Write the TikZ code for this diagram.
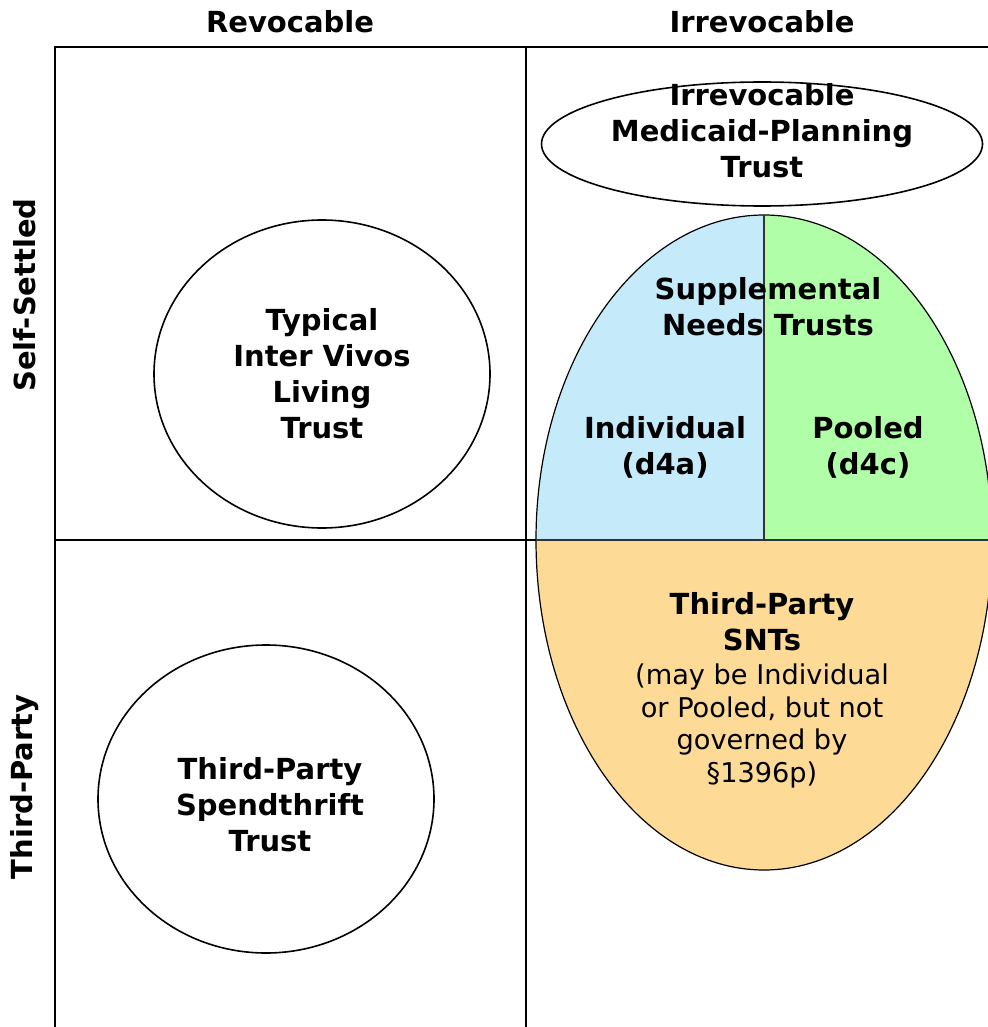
\documentclass[tikz,border=0pt]{standalone}
\usepackage{fontspec}
\setmainfont{DejaVu Sans}
\usetikzlibrary{shapes.geometric}

\definecolor{sntblue}{RGB}{197,234,250}
\definecolor{sntgreen}{RGB}{176,255,168}
\definecolor{sntorange}{RGB}{253,218,150}

\tikzset{
    hdr/.style={font=\bfseries\fontsize{14.5}{18}\selectfont, align=center, inner sep=0pt},
    note/.style={font=\fontsize{13.6}{16.3}\selectfont, align=center, inner sep=0pt},
    oval/.style={ellipse, draw, line width=0.8pt, inner sep=0pt},
    gridline/.style={line width=1pt},
}

\begin{document}
\begin{tikzpicture}[x=0.5pt,y=0.5pt]
    	            \useasboundingbox (0,0) rectangle (988,-1027);
    	            \clip (0,0) rectangle (988,-1027);
    	            
    	            % grid
    	            \coordinate (tl) at (55,-47);
    	            \coordinate (tr) at (988,-47);
    	            \coordinate (bl) at (55,-1027);
    	            \coordinate (tm) at (526,-47);
    	            \coordinate (bm) at (526,-1027);
    	            \coordinate (ml) at (55,-540);
    	            \coordinate (mr) at (536,-540);
    	            \draw[gridline] (bl)--(tl)--(tr);
    	            \draw[gridline] (tm)--(bm);
    	            \draw[gridline] (ml)--(mr);
    	            
    	            % headers
    	            \node[hdr] (revocable) at (290,-22) {Revocable};
    	            \node[hdr] (irrevocable) at (762,-22) {Irrevocable};
    	            \node[hdr, rotate=90] (selfsettled) at (25,-295) {Self-Settled};
    	            \node[hdr, rotate=90] (thirdparty) at (25,-787) {Third-Party};
    	            
    	            % left column
    	            \node[oval, minimum width=168pt, minimum height=154pt] (livingOval) at (322,-374) {};
    	            \node[hdr] (living) at (livingOval) {Typical\\Inter Vivos\\Living\\Trust};
    	            \node[oval, minimum width=168pt, minimum height=154pt] (spendOval) at (266,-799) {};
    	            \node[hdr] (spend) at (270,-805) {Third-Party\\Spendthrift\\Trust};
    	            
    	            % irrevocable column
    	            \node[oval, minimum width=220.5pt, minimum height=62pt] (medicaidOval) at (762,-144) {};
    	            \node[hdr] (medicaid) at (762,-131) {Irrevocable\\Medicaid-Planning\\Trust};
    	            
    	            % the egg
    	            \coordinate (eggc) at (764,-540);
    	            \coordinate (eggtop) at (764,-215);
    	            \fill[sntblue] (536,-540) arc[start angle=180, end angle=90, x radius=114pt, y radius=162.5pt] -- (eggc) -- cycle;
    	            \fill[sntgreen] (eggtop) arc[start angle=90, end angle=0, x radius=114pt, y radius=162.5pt] -- (eggc) -- cycle;
    	            \fill[sntorange] (536,-540) arc[start angle=180, end angle=360, x radius=114pt, y radius=165pt] -- cycle;
    	            \draw[line width=0.6pt] (536,-540) arc[start angle=180, end angle=0, x radius=114pt, y radius=162.5pt];
    	            \draw[line width=0.6pt] (536,-540) arc[start angle=180, end angle=360, x radius=114pt, y radius=165pt];
    	            \draw[line width=0.6pt, black!80] (eggtop)--(eggc);
    	            \draw[line width=0.6pt, black!80] (mr)--(992,-540);
    	            
    	            \node[hdr] (supplemental) at (768,-307) {Supplemental\\Needs Trusts};
    	            \node[hdr] (individual) at (665,-447) {Individual\\(d4a)};
    	            \node[hdr] (pooled) at (868,-447) {Pooled\\(d4c)};
    	            \node[hdr] (sntTitle) at (762,-622) {Third-Party\\SNTs};
    	            \node[note] (sntNote) at (762,-726) {(may be Individual\\or Pooled, but not\\governed by\\§1396p)};
    	        \end{tikzpicture}
\end{document}
